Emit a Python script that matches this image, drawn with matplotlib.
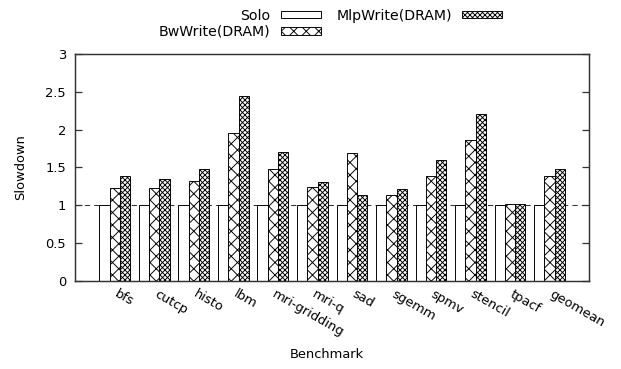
import matplotlib
matplotlib.use("Agg")
import matplotlib.pyplot as plt
import numpy as np

# benchmark names and slowdown per configuration
benchmarks = ["bfs", "cutcp", "histo", "lbm", "mri-gridding", "mri-q", "sad",
              "sgemm", "spmv", "stencil", "tpacf", "geomean"]
solo = [1, 1, 1, 1, 1, 1, 1, 1, 1, 1, 1, 1]
bw_write = [1.23, 1.23, 1.32, 1.96, 1.48, 1.24, 1.69, 1.14, 1.38, 1.86, 1.01, 1.38]
mlp_write = [1.39, 1.35, 1.48, 2.44, 1.70, 1.30, 1.13, 1.21, 1.60, 2.21, 1.02, 1.48]

plt.rcParams["font.family"] = "DejaVu Sans"
plt.rcParams["hatch.linewidth"] = 0.9

# 75 dpi keeps the hatch spacing close to gnuplot's patterns
fig = plt.figure(figsize=(621 / 75, 369 / 75), dpi=75)
ax = fig.add_axes([0.1213, 0.2398, 0.8272, 0.6133])

x = np.arange(len(benchmarks))
w = 0.26
kw = dict(width=w, edgecolor="black", linewidth=0.9, facecolor="white")
ax.bar(x - w, solo, label="Solo", **kw)
ax.bar(x, bw_write, hatch="xx", label="BwWrite(DRAM)", **kw)
ax.bar(x + w, mlp_write, hatch="xxxxx", label="MlpWrite(DRAM)", **kw)

# baseline at 1
ax.axhline(1, color="#333333", linewidth=1, linestyle=(0, (5, 4)), zorder=0.5)

ax.set_xlim(-1, 12)
ax.set_ylim(0, 3)
ax.set_yticks([0, 0.5, 1, 1.5, 2, 2.5, 3])
ax.set_yticklabels(["0", "0.5", "1", "1.5", "2", "2.5", "3"])
ax.tick_params(axis="y", direction="in", right=True, length=7, width=1.2,
               color="#333333", labelsize=12.5, pad=9)
ax.tick_params(axis="x", length=0, pad=7)
ax.set_xticks(x + 0.1)
ax.set_xticklabels(benchmarks, rotation=-30, rotation_mode="anchor",
                   ha="left", va="top", fontsize=12.5)
for s in ax.spines.values():
    s.set_linewidth(1.4)
    s.set_color("#333333")

ax.set_ylabel("Slowdown", fontsize=12.5)
ax.yaxis.set_label_coords(-0.093, 0.5)
ax.set_xlabel("Benchmark", fontsize=12.5)
ax.xaxis.set_label_coords(0.49, -0.30)

fig.legend(ncol=2, markerfirst=False, frameon=False, fontsize=13.5,
           loc="upper left", bbox_to_anchor=(152 / 621, 0.995), borderpad=0,
           handlelength=2.9, handleheight=0.4, labelspacing=0.15,
           columnspacing=1.07, handletextpad=0.7)

fig.savefig("out.png", dpi=75)
